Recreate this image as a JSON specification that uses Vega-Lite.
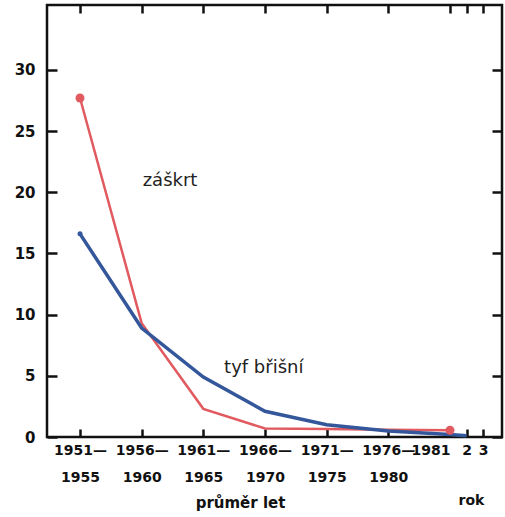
{
  "$schema": "https://vega.github.io/schema/vega-lite/v6.json",
  "width": 455,
  "height": 432,
  "autosize": {"type": "none"},
  "padding": {"left": 47, "top": 5, "right": 3, "bottom": 80},
  "background": "#ffffff",
  "config": {
    "view": {"stroke": "#111111", "strokeWidth": 2.5},
    "axis": {
      "grid": false,
      "domain": false,
      "ticks": true,
      "tickColor": "#111111",
      "tickWidth": 2.5,
      "tickOpacity": 1,
      "labelFont": "DejaVu Sans",
      "labelFontWeight": "bold",
      "labelColor": "#111111",
      "labelFontSize": 14,
      "titleFont": "DejaVu Sans",
      "titleFontWeight": "bold",
      "titleColor": "#111111",
      "titleFontSize": 15
    }
  },
  "datasets": {
    "series": [
      {"disease": "záškrt", "year": 1951, "value": 27.7},
      {"disease": "záškrt", "year": 1956, "value": 9.3},
      {"disease": "záškrt", "year": 1961, "value": 2.3},
      {"disease": "záškrt", "year": 1966, "value": 0.7},
      {"disease": "záškrt", "year": 1971, "value": 0.65},
      {"disease": "záškrt", "year": 1976, "value": 0.6},
      {"disease": "záškrt", "year": 1981, "value": 0.55},
      {"disease": "tyf břišní", "year": 1951, "value": 16.6},
      {"disease": "tyf břišní", "year": 1956, "value": 8.9},
      {"disease": "tyf břišní", "year": 1961, "value": 4.9},
      {"disease": "tyf břišní", "year": 1966, "value": 2.1},
      {"disease": "tyf břišní", "year": 1971, "value": 1.0},
      {"disease": "tyf břišní", "year": 1976, "value": 0.5},
      {"disease": "tyf břišní", "year": 1981, "value": 0.2},
      {"disease": "tyf břišní", "year": 1982, "value": 0.1}
    ],
    "dots": [
      {"disease": "záškrt", "year": 1951, "value": 27.7},
      {"disease": "záškrt", "year": 1981, "value": 0.55}
    ],
    "bluedot": [
      {"disease": "tyf břišní", "year": 1951, "value": 16.6}
    ],
    "labels": [
      {"text": "záškrt", "year": 1958.3, "value": 20.9},
      {"text": "tyf břišní", "year": 1965.9, "value": 5.6}
    ],
    "extra": [
      {"text": "rok", "year": 1982.3, "value": 0}
    ]
  },
  "layer": [
    {
      "data": {"name": "series"},
      "transform": [{"filter": "datum.disease == 'záškrt'"}],
      "mark": {"type": "line", "strokeWidth": 2.5, "color": "#e05a60"},
      "encoding": {
        "x": {
          "field": "year",
          "type": "quantitative",
          "scale": {"domain": [1951, 1981, 1983], "range": [33, 403, 436], "nice": false, "zero": false},
          "axis": {
            "orient": "bottom",
            "offset": -8,
            "values": [1951, 1956, 1961, 1966, 1971, 1976, 1981, 1982, 1983],
            "labelExpr": "datum.value <= 1976 ? [datum.value + '—', '' + (datum.value + 4)] : datum.value == 1981 ? '1981' : datum.value == 1982 ? '2' : '3'",
            "labelAlign": {"condition": {"test": "datum.value == 1981", "value": "right"}, "value": "center"},
            "labelLineHeight": 27,
            "labelBaseline": "top",
            "labelPadding": 6,
            "labelOverlap": false,
            "labelFlush": false,
            "ticks": true,
            "tickSize": 8,
            "tickColor": "#111111",
            "tickWidth": 2.5,
            "title": "průměr let",
            "titleX": 193,
            "titleY": 66,
            "titleAlign": "center"
          }
        },
        "y": {
          "field": "value",
          "type": "quantitative",
          "scale": {"domain": [0, 35.3], "nice": false},
          "axis": {
            "orient": "left",
            "offset": -10,
            "values": [0, 5, 10, 15, 20, 25, 30],
            "ticks": true,
            "tickSize": 10,
            "tickColor": "#111111",
            "tickWidth": 2.5,
            "labelPadding": 12,
            "labelFontSize": 15,
            "title": null
          }
        }
      }
    },
    {
      "data": {"name": "series"},
      "transform": [{"filter": "datum.disease == 'tyf břišní'"}],
      "mark": {"type": "line", "strokeWidth": 3.5, "color": "#34579b"},
      "encoding": {
        "x": {
          "field": "year",
          "type": "quantitative",
          "axis": {
            "orient": "top",
            "offset": -8,
            "values": [1951, 1956, 1961, 1966, 1971, 1976, 1981, 1982, 1983],
            "labels": false,
            "ticks": true,
            "tickSize": 8,
            "tickColor": "#111111",
            "tickWidth": 2.5,
            "title": null
          }
        },
        "y": {
          "field": "value",
          "type": "quantitative",
          "axis": {
            "orient": "right",
            "offset": -10,
            "values": [0, 5, 10, 15, 20, 25, 30],
            "labels": false,
            "ticks": true,
            "tickSize": 10,
            "tickColor": "#111111",
            "tickWidth": 2.5,
            "title": null
          }
        }
      }
    },
    {
      "data": {"name": "dots"},
      "mark": {"type": "circle", "size": 80, "color": "#e05a60", "opacity": 1},
      "encoding": {
        "x": {"field": "year", "type": "quantitative", "axis": null},
        "y": {"field": "value", "type": "quantitative", "axis": null}
      }
    },
    {
      "data": {"name": "bluedot"},
      "mark": {"type": "circle", "size": 25, "color": "#34579b", "opacity": 1},
      "encoding": {
        "x": {"field": "year", "type": "quantitative", "axis": null},
        "y": {"field": "value", "type": "quantitative", "axis": null}
      }
    },
    {
      "data": {"name": "labels"},
      "mark": {"type": "text", "font": "DejaVu Sans", "fontSize": 18, "color": "#222222", "align": "center", "baseline": "middle"},
      "encoding": {
        "x": {"field": "year", "type": "quantitative", "axis": null},
        "y": {"field": "value", "type": "quantitative", "axis": null},
        "text": {"field": "text"}
      }
    },
    {
      "data": {"name": "extra"},
      "mark": {"type": "text", "font": "DejaVu Sans", "fontWeight": "bold", "fontSize": 14, "color": "#111111", "align": "center", "baseline": "middle", "dy": 64},
      "encoding": {
        "x": {"field": "year", "type": "quantitative", "axis": null},
        "y": {"field": "value", "type": "quantitative", "axis": null},
        "text": {"field": "text"}
      }
    }
  ],
  "resolve": {"axis": {"x": "independent", "y": "independent"}}
}
